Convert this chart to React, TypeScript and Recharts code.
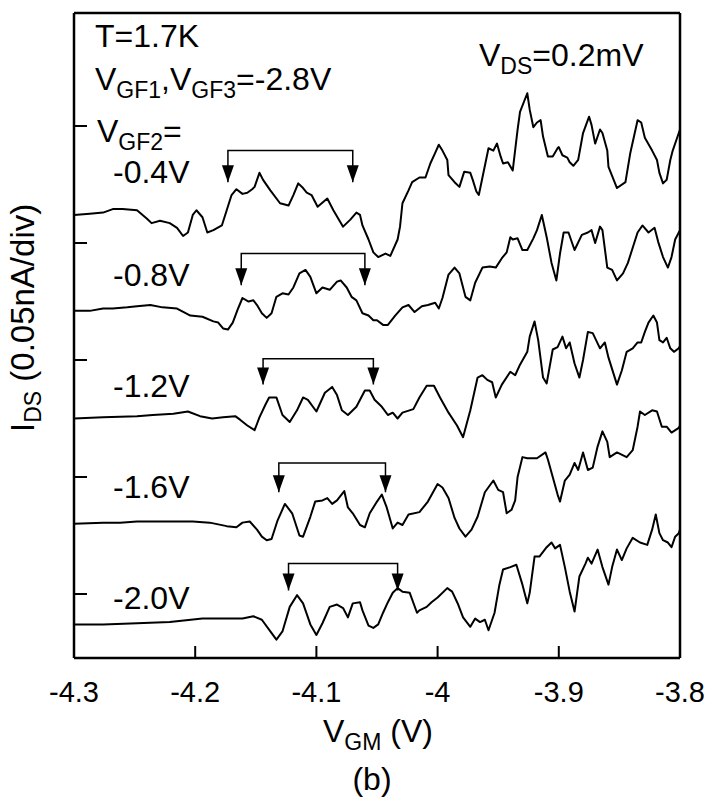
import { LineChart, Line, XAxis, YAxis } from "recharts";

// V_GM (V) vs I_DS offset traces (units: div, 0.05 nA/div)
const trace04: [number, number][] = [
  [-4.3, 3.24], [-4.287, 3.25], [-4.276, 3.26], [-4.268, 3.29], [-4.26, 3.29], [-4.248, 3.28],
  [-4.24, 3.21], [-4.236, 3.17], [-4.229, 3.19], [-4.221, 3.17], [-4.215, 3.13], [-4.21, 3.06],
  [-4.206, 3.09], [-4.202, 3.24], [-4.199, 3.28], [-4.194, 3.22], [-4.19, 3.09], [-4.185, 3.11],
  [-4.178, 3.15], [-4.174, 3.28], [-4.17, 3.41], [-4.166, 3.46], [-4.161, 3.42], [-4.157, 3.43],
  [-4.153, 3.46], [-4.151, 3.48], [-4.147, 3.6], [-4.144, 3.54], [-4.138, 3.45], [-4.13, 3.34],
  [-4.123, 3.32], [-4.119, 3.41], [-4.115, 3.51], [-4.111, 3.47], [-4.108, 3.43], [-4.104, 3.41],
  [-4.099, 3.31], [-4.091, 3.38], [-4.086, 3.28], [-4.078, 3.14], [-4.072, 3.2], [-4.067, 3.26],
  [-4.064, 3.24], [-4.062, 3.15], [-4.057, 3.03], [-4.053, 2.92], [-4.049, 2.88], [-4.043, 2.91],
  [-4.039, 2.89], [-4.033, 3.03], [-4.031, 3.14], [-4.029, 3.34], [-4.024, 3.45], [-4.021, 3.52],
  [-4.015, 3.56], [-4.01, 3.56], [-4.006, 3.68], [-4.002, 3.77], [-3.999, 3.84], [-3.996, 3.79],
  [-3.992, 3.71], [-3.991, 3.58], [-3.986, 3.52], [-3.982, 3.48], [-3.978, 3.61], [-3.973, 3.6],
  [-3.971, 3.54], [-3.968, 3.44], [-3.966, 3.41], [-3.963, 3.56], [-3.958, 3.81], [-3.954, 3.79],
  [-3.951, 3.85], [-3.948, 3.74], [-3.946, 3.68], [-3.942, 3.69], [-3.938, 3.62], [-3.934, 3.97],
  [-3.932, 4.12], [-3.926, 4.28], [-3.924, 4.14], [-3.921, 3.99], [-3.918, 4.03], [-3.915, 4.05],
  [-3.913, 3.91], [-3.909, 3.74], [-3.905, 3.74], [-3.901, 3.81], [-3.9, 3.82], [-3.897, 3.75],
  [-3.893, 3.73], [-3.891, 3.69], [-3.888, 3.66], [-3.884, 3.71], [-3.88, 3.94], [-3.875, 4.08],
  [-3.873, 4.01], [-3.87, 3.85], [-3.866, 3.97], [-3.864, 3.94], [-3.86, 3.79], [-3.859, 3.65],
  [-3.852, 3.47], [-3.845, 3.52], [-3.841, 3.77], [-3.835, 4.05], [-3.832, 4.03], [-3.829, 3.9],
  [-3.823, 3.79], [-3.819, 3.71], [-3.817, 3.6], [-3.814, 3.51], [-3.811, 3.54], [-3.808, 3.71],
  [-3.806, 3.79], [-3.802, 3.91], [-3.8, 3.97],
];

const trace08: [number, number][] = [
  [-4.3, 2.42], [-4.287, 2.42], [-4.276, 2.44], [-4.268, 2.44], [-4.256, 2.45], [-4.248, 2.46],
  [-4.237, 2.47], [-4.227, 2.45], [-4.215, 2.44], [-4.204, 2.38], [-4.194, 2.37], [-4.185, 2.33],
  [-4.181, 2.32], [-4.177, 2.27], [-4.173, 2.26], [-4.169, 2.32], [-4.165, 2.43], [-4.161, 2.53],
  [-4.156, 2.5], [-4.152, 2.51], [-4.149, 2.47], [-4.145, 2.4], [-4.141, 2.36], [-4.137, 2.4],
  [-4.133, 2.54], [-4.128, 2.57], [-4.123, 2.56], [-4.119, 2.62], [-4.114, 2.74], [-4.109, 2.77],
  [-4.105, 2.71], [-4.1, 2.57], [-4.095, 2.62], [-4.089, 2.6], [-4.083, 2.67], [-4.08, 2.68],
  [-4.075, 2.62], [-4.071, 2.54], [-4.067, 2.51], [-4.062, 2.4], [-4.057, 2.38], [-4.053, 2.34],
  [-4.05, 2.34], [-4.045, 2.3], [-4.041, 2.3], [-4.035, 2.38], [-4.029, 2.45], [-4.024, 2.47],
  [-4.019, 2.41], [-4.013, 2.46], [-4.008, 2.47], [-4.002, 2.49], [-3.999, 2.44], [-3.996, 2.53],
  [-3.991, 2.73], [-3.986, 2.79], [-3.982, 2.74], [-3.977, 2.54], [-3.973, 2.51], [-3.969, 2.66],
  [-3.963, 2.79], [-3.957, 2.8], [-3.952, 2.79], [-3.947, 2.87], [-3.943, 2.92], [-3.94, 3.05],
  [-3.938, 3.03], [-3.934, 3.04], [-3.93, 2.94], [-3.926, 2.94], [-3.921, 3.04], [-3.918, 3.11],
  [-3.914, 3.24], [-3.91, 3.05], [-3.906, 2.83], [-3.902, 2.68], [-3.899, 2.91], [-3.896, 3.09],
  [-3.892, 3.09], [-3.887, 2.94], [-3.881, 3.07], [-3.876, 3.09], [-3.873, 3.11], [-3.87, 3.0],
  [-3.866, 3.14], [-3.864, 3.11], [-3.86, 2.79], [-3.856, 2.77], [-3.852, 2.68], [-3.847, 2.74],
  [-3.843, 2.83], [-3.835, 3.09], [-3.831, 3.15], [-3.826, 3.09], [-3.821, 3.13], [-3.818, 3.01],
  [-3.814, 2.88], [-3.81, 2.79], [-3.807, 2.88], [-3.804, 3.03], [-3.801, 3.09], [-3.8, 3.11],
];

const trace12: [number, number][] = [
  [-4.3, 1.5], [-4.276, 1.51], [-4.248, 1.52], [-4.235, 1.53], [-4.218, 1.54], [-4.206, 1.56],
  [-4.196, 1.52], [-4.186, 1.5], [-4.177, 1.51], [-4.167, 1.52], [-4.163, 1.49], [-4.157, 1.44],
  [-4.151, 1.4], [-4.147, 1.51], [-4.142, 1.62], [-4.139, 1.68], [-4.133, 1.68], [-4.128, 1.53],
  [-4.122, 1.47], [-4.116, 1.57], [-4.111, 1.68], [-4.107, 1.66], [-4.1, 1.56], [-4.093, 1.72],
  [-4.087, 1.77], [-4.083, 1.7], [-4.079, 1.57], [-4.074, 1.53], [-4.067, 1.6], [-4.06, 1.74],
  [-4.056, 1.74], [-4.052, 1.66], [-4.046, 1.6], [-4.041, 1.53], [-4.037, 1.55], [-4.033, 1.5],
  [-4.029, 1.55], [-4.02, 1.58], [-4.015, 1.68], [-4.009, 1.78], [-4.003, 1.78], [-3.998, 1.68],
  [-3.991, 1.55], [-3.984, 1.44], [-3.979, 1.34], [-3.973, 1.57], [-3.967, 1.85], [-3.963, 1.87],
  [-3.959, 1.83], [-3.955, 1.81], [-3.952, 1.68], [-3.947, 1.79], [-3.94, 1.9], [-3.936, 1.87],
  [-3.932, 1.96], [-3.926, 2.07], [-3.924, 2.2], [-3.92, 2.33], [-3.917, 2.17], [-3.913, 1.85],
  [-3.91, 1.8], [-3.905, 2.09], [-3.901, 2.11], [-3.897, 2.2], [-3.894, 2.1], [-3.891, 2.15],
  [-3.887, 1.97], [-3.883, 1.85], [-3.88, 2.0], [-3.876, 2.24], [-3.872, 2.23], [-3.866, 2.1],
  [-3.862, 2.15], [-3.859, 2.02], [-3.852, 1.79], [-3.848, 1.91], [-3.844, 2.07], [-3.839, 2.1],
  [-3.835, 2.15], [-3.832, 2.15], [-3.829, 2.24], [-3.826, 2.32], [-3.822, 2.38], [-3.819, 2.32],
  [-3.817, 2.17], [-3.814, 2.15], [-3.811, 2.19], [-3.808, 2.1], [-3.805, 2.07], [-3.801, 2.1],
  [-3.8, 2.12],
];

const trace16: [number, number][] = [
  [-4.3, 0.6], [-4.276, 0.61], [-4.262, 0.61], [-4.248, 0.62], [-4.235, 0.62], [-4.221, 0.62],
  [-4.202, 0.62], [-4.188, 0.61], [-4.174, 0.58], [-4.166, 0.57], [-4.161, 0.61], [-4.155, 0.62],
  [-4.149, 0.55], [-4.145, 0.49], [-4.141, 0.46], [-4.137, 0.47], [-4.132, 0.63], [-4.126, 0.77],
  [-4.12, 0.69], [-4.114, 0.5], [-4.111, 0.49], [-4.105, 0.66], [-4.101, 0.79], [-4.095, 0.8],
  [-4.091, 0.82], [-4.087, 0.77], [-4.083, 0.8], [-4.077, 0.88], [-4.074, 0.74], [-4.07, 0.69],
  [-4.064, 0.59], [-4.06, 0.57], [-4.056, 0.69], [-4.05, 0.79], [-4.046, 0.85], [-4.042, 0.74],
  [-4.037, 0.56], [-4.033, 0.61], [-4.029, 0.59], [-4.024, 0.68], [-4.015, 0.7], [-4.008, 0.79],
  [-4.0, 0.94], [-3.996, 0.91], [-3.991, 0.82], [-3.986, 0.65], [-3.982, 0.56], [-3.977, 0.49],
  [-3.972, 0.55], [-3.967, 0.66], [-3.961, 0.87], [-3.954, 0.97], [-3.95, 0.89], [-3.946, 0.87],
  [-3.943, 0.69], [-3.939, 0.72], [-3.936, 0.8], [-3.934, 1.0], [-3.93, 1.17], [-3.926, 1.16],
  [-3.918, 1.16], [-3.911, 1.21], [-3.909, 1.15], [-3.905, 1.0], [-3.901, 0.85], [-3.899, 0.79],
  [-3.895, 0.97], [-3.891, 1.02], [-3.887, 1.12], [-3.884, 1.06], [-3.88, 1.21], [-3.876, 1.06],
  [-3.872, 1.08], [-3.868, 1.26], [-3.864, 1.39], [-3.86, 1.3], [-3.858, 1.17], [-3.852, 1.21],
  [-3.844, 1.17], [-3.839, 1.23], [-3.835, 1.43], [-3.833, 1.56], [-3.829, 1.53], [-3.823, 1.57],
  [-3.819, 1.56], [-3.815, 1.43], [-3.811, 1.43], [-3.807, 1.38], [-3.801, 1.42], [-3.8, 1.44],
];

const trace20: [number, number][] = [
  [-4.3, -0.26], [-4.276, -0.26], [-4.248, -0.25], [-4.221, -0.24], [-4.194, -0.21], [-4.174, -0.21],
  [-4.161, -0.21], [-4.152, -0.19], [-4.145, -0.22], [-4.138, -0.32], [-4.133, -0.39], [-4.128, -0.32],
  [-4.122, -0.11], [-4.116, -0.01], [-4.111, -0.08], [-4.105, -0.26], [-4.1, -0.35], [-4.095, -0.25],
  [-4.089, -0.11], [-4.083, -0.09], [-4.078, -0.12], [-4.074, -0.2], [-4.07, -0.08], [-4.064, -0.07],
  [-4.062, -0.14], [-4.057, -0.27], [-4.053, -0.29], [-4.049, -0.26], [-4.045, -0.16], [-4.041, -0.07],
  [-4.037, 0.01], [-4.033, 0.05], [-4.029, 0.02], [-4.023, 0.01], [-4.017, -0.16], [-4.015, -0.14],
  [-4.009, -0.11], [-4.005, -0.07], [-4.0, -0.03], [-3.992, 0.05], [-3.988, 0.02], [-3.983, -0.09],
  [-3.979, -0.2], [-3.973, -0.28], [-3.969, -0.21], [-3.965, -0.24], [-3.961, -0.22], [-3.958, -0.31],
  [-3.953, -0.16], [-3.949, 0.08], [-3.946, 0.21], [-3.94, 0.23], [-3.935, 0.25], [-3.93, 0.08],
  [-3.926, -0.08], [-3.924, 0.01], [-3.92, 0.32], [-3.916, 0.32], [-3.91, 0.4], [-3.906, 0.44],
  [-3.903, 0.39], [-3.899, 0.42], [-3.895, 0.23], [-3.891, 0.02], [-3.887, -0.15], [-3.883, 0.15],
  [-3.878, 0.26], [-3.876, 0.31], [-3.873, 0.26], [-3.868, 0.38], [-3.864, 0.23], [-3.859, 0.08],
  [-3.856, 0.23], [-3.852, 0.38], [-3.848, 0.29], [-3.844, 0.39], [-3.839, 0.48], [-3.833, 0.44],
  [-3.827, 0.42], [-3.823, 0.55], [-3.82, 0.68], [-3.817, 0.52], [-3.814, 0.46], [-3.81, 0.44],
  [-3.807, 0.4], [-3.804, 0.49], [-3.801, 0.52], [-3.8, 0.55],
];

const traces = [trace04, trace08, trace12, trace16, trace20];
const traceLabels = ["-0.4V", "-0.8V", "-1.2V", "-1.6V", "-2.0V"];

// period brackets (arrows) for each trace
const bracketLeft = [-4.173, -4.162, -4.144, -4.131, -4.123];
const bracketRight = [-4.07, -4.06, -4.053, -4.043, -4.033];
const bracketTop = [3.79, 2.91, 2.01, 1.12, 0.26];
const bracketTip = [3.52, 2.64, 1.79, 0.87, 0.03];

const xTicks = [-4.3, -4.2, -4.1, -4, -3.9, -3.8];
const yTicks = [0, 1, 2, 3, 4];

const FONT = '"Liberation Sans", Arial, Helvetica, sans-serif';

// tick marks point into the plot, labels sit below
const XTick = (props: any) => {
  const { x, y, payload } = props;
  return (
    <g>
      <line x1={x} x2={x} y1={y} y2={y - 12} stroke="#000" strokeWidth={2} />
      <text x={x} y={y + 44} textAnchor="middle" fontSize={29} fontFamily={FONT} fill="#000">
        {String(payload.value)}
      </text>
    </g>
  );
};

const YTick = (props: any) => {
  const { x, y } = props;
  return <line x1={x} x2={x + 13} y1={y} y2={y} stroke="#000" strokeWidth={2} />;
};

const ArrowDot = (props: any) => {
  const { cx, cy, index } = props;
  if (index !== 0 && index !== 3) return <g key={`d${index}`} />;
  return (
    <polygon
      key={`d${index}`}
      points={`${cx - 6},${cy - 17} ${cx + 6},${cy - 17} ${cx},${cy}`}
      fill="#000"
    />
  );
};

const labelRows = [183, 286, 397, 498, 609];
const axisStyle = { stroke: "#000", strokeWidth: 2.5 };

export default function App() {
  return (
    <div style={{ position: "absolute", left: 0, top: 0, width: 705, height: 803, background: "#fff" }}>
      <LineChart width={705} height={803} margin={{ top: 3, right: 15, bottom: 85, left: 34 }}>
        <XAxis
          dataKey="x"
          type="number"
          domain={[-4.3, -3.8]}
          ticks={xTicks}
          interval={0}
          height={60}
          tickSize={0}
          tickMargin={0}
          tickLine={false}
          allowDataOverflow
          axisLine={axisStyle}
          tick={<XTick />}
        />
        <XAxis
          xAxisId="top"
          orientation="top"
          dataKey="x"
          type="number"
          domain={[-4.3, -3.8]}
          height={10}
          tick={false}
          tickLine={false}
          axisLine={axisStyle}
        />
        <YAxis
          type="number"
          domain={[-0.547, 4.966]}
          ticks={yTicks}
          interval={0}
          width={40}
          tickSize={0}
          tickMargin={0}
          tickLine={false}
          allowDataOverflow
          axisLine={axisStyle}
          tick={<YTick />}
        />
        <YAxis
          yAxisId="right"
          orientation="right"
          type="number"
          domain={[-0.547, 4.966]}
          width={10}
          tick={false}
          tickLine={false}
          axisLine={axisStyle}
        />
        {traces.map((t, i) => (
          <Line
            key={`t${i}`}
            data={t.map(([x, y]) => ({ x, y }))}
            dataKey="y"
            type="linear"
            stroke="#000"
            strokeWidth={2}
            strokeLinejoin="round"
            dot={false}
            activeDot={false}
            isAnimationActive={false}
          />
        ))}
        {bracketLeft.map((l, i) => (
          <Line
            key={`b${i}`}
            data={[
              { x: l, y: bracketTip[i] },
              { x: l, y: bracketTop[i] },
              { x: bracketRight[i], y: bracketTop[i] },
              { x: bracketRight[i], y: bracketTip[i] },
            ]}
            dataKey="y"
            type="linear"
            stroke="#000"
            strokeWidth={1.5}
            dot={<ArrowDot />}
            activeDot={false}
            isAnimationActive={false}
          />
        ))}
      </LineChart>
      <svg
        width={705}
        height={803}
        style={{ position: "absolute", left: 0, top: 0, pointerEvents: "none" }}
        fontFamily={FONT}
        fill="#000"
      >
        <text x={95} y={47} fontSize={32}>T=1.7K</text>
        <text x={95} y={90} fontSize={32}>
          V<tspan fontSize={23} dy={8}>GF1</tspan>
          <tspan dy={-8}>,V</tspan>
          <tspan fontSize={23} dy={8}>GF3</tspan>
          <tspan dy={-8}>=-2.8V</tspan>
        </text>
        <text x={479} y={66} fontSize={32}>
          V<tspan fontSize={23} dy={8}>DS</tspan>
          <tspan dy={-8}>=0.2mV</tspan>
        </text>
        <text x={97} y={142} fontSize={32}>
          V<tspan fontSize={23} dy={8}>GF2</tspan>
          <tspan dy={-8}>=</tspan>
        </text>
        {traceLabels.map((s, i) => (
          <text key={s} x={113} y={labelRows[i]} fontSize={32}>{s}</text>
        ))}
        <text x={323} y={742} fontSize={32}>
          V<tspan fontSize={23} dy={8}>GM</tspan>
          <tspan dy={-8}> (V)</tspan>
        </text>
        <text x={372} y={790} fontSize={32} textAnchor="middle">(b)</text>
        <text x={34} y={432} fontSize={33} transform="rotate(-90 34 432)">
          I<tspan fontSize={23} dy={7}>DS</tspan>
          <tspan dy={-7}> (0.05nA/div)</tspan>
        </text>
      </svg>
    </div>
  );
}
